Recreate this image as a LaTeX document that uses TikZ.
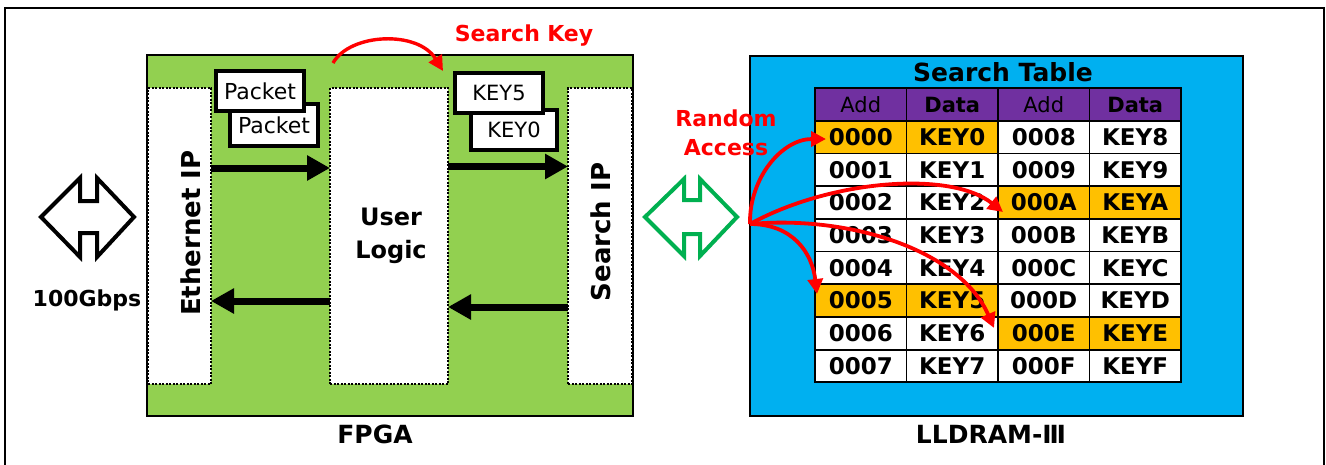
\documentclass[tikz,border=0pt]{standalone}
\usepackage{fontspec}
\setmainfont{DejaVu Sans}
\usetikzlibrary{arrows.meta}
\definecolor{fpgagreen}{HTML}{92D050}
\definecolor{dramblue}{HTML}{00B0F0}
\definecolor{hdrpurple}{HTML}{7030A0}
\definecolor{hitorange}{HTML}{FFC000}
\definecolor{linkgreen}{HTML}{00B050}
\definecolor{keyred}{HTML}{FF0000}
\tikzset{
  fs/.style={font=\fontsize{#1}{#1}\selectfont},
  box/.style={rectangle, inner sep=0pt, outer sep=0pt},
  column/.style={box, fill=white, draw=black, line width=1.5pt, dash pattern=on 2pt off 1.5pt},
  tagbox/.style={box, fill=white, draw=black, line width=4pt, fs=22},
  bigarrow/.style={line width=7pt, -{Triangle[length=23pt,width=24pt]}},
  redarrow/.style={draw=keyred, line width=3.8pt, -{Triangle[length=15pt,width=15pt]}},
  cell/.style={box, draw=black, line width=1.8pt, minimum width=91.5pt, minimum height=32.7pt,
               text height=16.5pt, text depth=0pt, font=\fontsize{23}{23}\selectfont\bfseries},
  hdr/.style={box, draw=black, line width=1.8pt, fill=hdrpurple, minimum width=91.5pt, minimum height=32.4pt,
               text height=15pt, text depth=0pt},
  label/.style={font=\fontsize{25}{25}\selectfont\bfseries},
  redlabel/.style={text=keyred, font=\fontsize{22}{28.5}\selectfont\bfseries, align=center},
  duplex/.style={line width=4pt, line join=miter, fill=white},
}
\begin{document}
\begin{tikzpicture}[x=1pt,y=-1pt]
\useasboundingbox (0,0) rectangle (1326,464);
% outer frame
\draw[line width=2.2pt] (5,8) rectangle (1324,480);

% ---------------- FPGA ----------------
\node[box, fill=fpgagreen, minimum width=486pt, minimum height=361pt] (fpga) at (390,235.5) {};
\node[column, minimum width=63pt, minimum height=296pt] (eth) at (179.5,236) {};
\node[column, minimum width=118pt, minimum height=296pt] (ul) at (389,236) {};
\node[column, minimum width=64pt, minimum height=296pt] (sip) at (600,236) {};
\draw[line width=2.2pt] (fpga.north west) rectangle (fpga.south east);

\node[rotate=90, font=\fontsize{26}{26}\selectfont\bfseries] (ethtxt) at (191,233) {Ethernet IP};
\node[rotate=90, font=\fontsize{26}{26}\selectfont\bfseries] (siptxt) at (601,232) {Search IP};
\node[align=center, font=\fontsize{24}{33}\selectfont\bfseries] (ultxt) at (391,236) {User\\Logic};

% packet and key cards
\node[tagbox, minimum width=88pt, minimum height=42pt] (pk2) at (274,125) {Packet};
\node[tagbox, minimum width=88pt, minimum height=40pt] (pk1) at (260,91) {Packet};
\node[tagbox, minimum width=86pt, minimum height=40pt, fs=21] (k0) at (514,130) {KEY0};
\node[tagbox, minimum width=88pt, minimum height=40pt, fs=21] (k5) at (499,93) {KEY5};

% data path arrows
\draw[bigarrow] (eth.east |- 0,168) -- (ul.west |- 0,168);
\draw[bigarrow] (ul.east |- 0,166.5) -- (sip.west |- 0,166.5);
\draw[bigarrow] (ul.west |- 0,301) -- (eth.east |- 0,301);
\draw[bigarrow] (sip.west |- 0,307) -- (ul.east |- 0,307);

% search key hand-off
\coordinate (skfrom) at (333,63);
\coordinate (skto) at (443,71);
\draw[redarrow, line width=3.4pt] (skfrom) .. controls (350,33) and (418,30) .. (skto);
\node[text=keyred, font=\fontsize{22}{22}\selectfont\bfseries] (sklabel) at (524,36) {Search\,\,Key};

\node[label] (fpgalabel) at (375,434) {FPGA};

% ---------------- Ethernet port ----------------
\draw[duplex, draw=black] (41,217) -- (80,178) -- (80,201) -- (97,201) -- (97,178) -- (134,217)
  -- (97,257) -- (97,233) -- (80,233) -- (80,257) -- cycle;
\node[font=\fontsize{22}{22}\selectfont\bfseries] (gbps) at (87,300) {100Gbps};

% ---------------- memory link ----------------
\draw[duplex, draw=linkgreen] (645,217) -- (684,179) -- (684,200) -- (700,200) -- (700,179) -- (737,217)
  -- (700,256) -- (700,234) -- (684,234) -- (684,256) -- cycle;

% ---------------- LLDRAM ----------------
\node[box, fill=dramblue, draw=black, line width=2.2pt, minimum width=493pt, minimum height=360pt] (dram) at (996.5,236) {};
\node[label] (sttitle) at (1003,72.5) {Search Table};

\foreach \c/\t/\w in {1/Add/\mdseries, 2/Data/\bfseries, 3/Add/\mdseries, 4/Data/\bfseries}
  \node[hdr, font=\fontsize{21}{21}\selectfont\w] (h-\c) at ({815+(\c-0.5)*91.5},104.5) {\t};

\foreach \r/\a/\b/\c/\d/\fl/\fr in {
  1/0000/KEY0/0008/KEY8/hitorange/white,
  2/0001/KEY1/0009/KEY9/white/white,
  3/0002/KEY2/000A/KEYA/white/hitorange,
  4/0003/KEY3/000B/KEYB/white/white,
  5/0004/KEY4/000C/KEYC/white/white,
  6/0005/KEY5/000D/KEYD/hitorange/white,
  7/0006/KEY6/000E/KEYE/white/hitorange,
  8/0007/KEY7/000F/KEYF/white/white} {
  \node[cell, fill=\fl] (c-\r-1) at (860.75,{120.7+(\r-0.5)*32.7}) {\a};
  \node[cell, fill=\fl] (c-\r-2) at (952.25,{120.7+(\r-0.5)*32.7}) {\b};
  \node[cell, fill=\fr] (c-\r-3) at (1043.75,{120.7+(\r-0.5)*32.7}) {\c};
  \node[cell, fill=\fr] (c-\r-4) at (1135.25,{120.7+(\r-0.5)*32.7}) {\d};
}

% random access arrows
\coordinate (ra) at (750,224);
\coordinate (ra1) at (826,139);
\coordinate (ra2) at (1003,212);
\coordinate (ra3) at (817,294);
\coordinate (ra4) at (994,328);
\draw[redarrow] (ra) .. controls (749,178) and (782,139) .. (ra1);
\draw[redarrow] (ra) .. controls (830,180) and (950,170) .. (ra2);
\draw[redarrow] (ra) .. controls (792,224) and (812,252) .. (ra3);
\draw[redarrow] (ra) .. controls (850,215) and (960,250) .. (ra4);
\node[redlabel] (ralabel) at (726,133) {Random\\Access};

\node[label] (dramlabel) at (991,434) {LLDRAM-Ⅲ};
\end{tikzpicture}
\end{document}
